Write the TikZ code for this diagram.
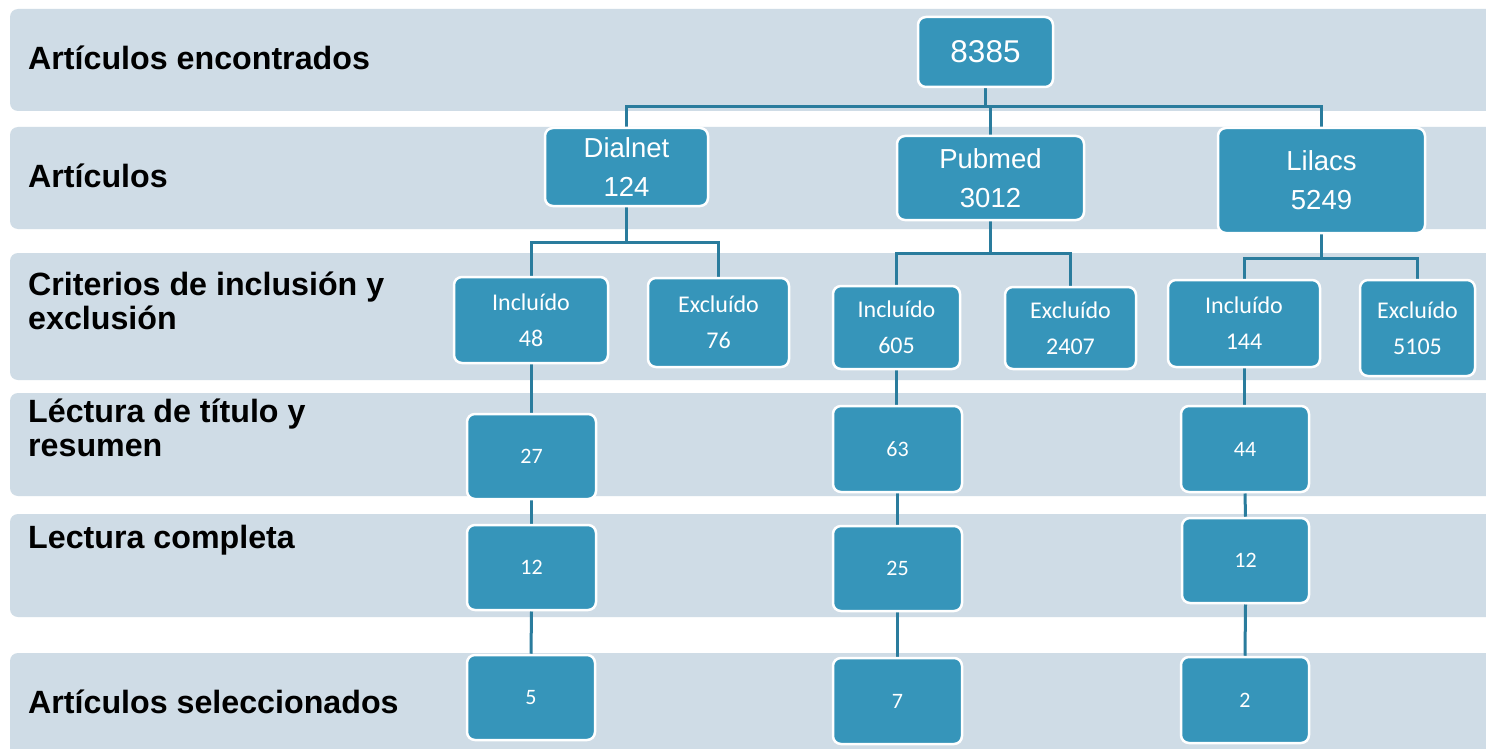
\documentclass[tikz,border=0pt]{standalone}
\usepackage{fontspec}
\setmainfont{Liberation Sans}
\newfontfamily\calib{Carlito}
\definecolor{bandc}{RGB}{207,220,230}
\definecolor{boxc}{RGB}{54,149,186}
\definecolor{linec}{RGB}{42,124,157}
\pgfdeclarelayer{under}
\pgfsetlayers{under,main}
\begin{document}
\begin{tikzpicture}[x=1pt,y=-1pt,
 band/.style={fill=bandc, rounded corners=8pt},
 lab/.style={inner sep=0pt, align=left, font=\fontsize{32.2}{33.5}\selectfont\bfseries},
 bx/.style={draw=white, line width=2.5pt, fill=boxc, rounded corners=8pt, text=white, inner sep=0pt, align=center},
 big/.style={bx, font=\fontsize{27.5}{39}\selectfont},
 top/.style={bx, font=\fontsize{31.5}{36}\selectfont},
 ie/.style={bx, font=\calib\fontsize{24}{36}\selectfont},
 num/.style={bx, font=\calib\fontsize{22}{26}\selectfont},
 conn/.style={draw=linec, line width=3pt}]
\useasboundingbox (0,0) rectangle (1486,749);
\begin{pgfonlayer}{under}
\fill[white] (0,0) rectangle (1486,749);
\fill[band] (10,9) rectangle (1510,111);
\fill[band] (10,127) rectangle (1510,229);
\fill[band] (10,253) rectangle (1510,380);
\fill[band] (10,393) rectangle (1510,496);
\fill[band] (10,514) rectangle (1510,617);
\fill[band] (10,653) rectangle (1510,775);
\end{pgfonlayer}
% row labels
\node[lab, anchor=base west] (l1) at (28,70) {Artículos encontrados};
\node[lab, anchor=base west] (l2) at (28,187) {Artículos};
\node[lab, anchor=north west] (l3) at (28,272) {Criterios de inclusión y\\exclusión};
\node[lab, anchor=north west] (l4) at (28,399) {Léctura de título y\\resumen};
\node[lab, anchor=base west] (l5) at (28,548) {Lectura completa};
\node[lab, anchor=base west] (l6) at (28,713) {Artículos seleccionados};
% boxes
\node[top, minimum width=135, minimum height=70] (n8385) at (985.5,52) {8385};
\node[big, minimum width=163, minimum height=78] (dialnet) at (626.5,167) {Dialnet\\124};
\node[big, minimum width=187, minimum height=84] (pubmed) at (990.5,178) {Pubmed\\3012};
\node[big, minimum width=207, minimum height=105] (lilacs) at (1321.5,180.5) {Lilacs\\5249};
\node[ie, minimum width=154, minimum height=86] (inc1) at (531,320) {Incluído\\48};
\node[ie, minimum width=141, minimum height=89] (exc1) at (718.5,322.5) {Excluído\\76};
\node[ie, minimum width=127, minimum height=83] (inc2) at (896.5,327.5) {Incluído\\605};
\node[ie, minimum width=131, minimum height=82] (exc2) at (1070.5,328) {Excluído\\2407};
\node[ie, minimum width=152, minimum height=87] (inc3) at (1244,323.5) {Incluído\\144};
\node[ie, minimum width=115, minimum height=96] (exc3) at (1417.5,328) {Excluído\\5105};
\node[num, minimum width=129, minimum height=85] (r4a) at (531.5,456.5) {27};
\node[num, minimum width=129, minimum height=86] (r4b) at (897.5,449) {63};
\node[num, minimum width=128, minimum height=86] (r4c) at (1245,449) {44};
\node[num, minimum width=129, minimum height=85] (r5a) at (531.5,567.5) {12};
\node[num, minimum width=129, minimum height=85] (r5b) at (897.5,568.5) {25};
\node[num, minimum width=127, minimum height=85] (r5c) at (1245.5,560.5) {12};
\node[num, minimum width=128, minimum height=85] (r6a) at (531,697.5) {5};
\node[num, minimum width=129, minimum height=86] (r6b) at (897.5,701) {7};
\node[num, minimum width=128, minimum height=86] (r6c) at (1245,700) {2};
% connectors
\coordinate (j1) at (986,107);
\coordinate (d1) at (626.5,242);
\coordinate (p1) at (990.5,253);
\coordinate (q1) at (1321.5,258);
\begin{pgfonlayer}{under}
\draw[conn] (n8385.south) |- (pubmed.north |- j1) -- (pubmed.north);
\draw[conn] (dialnet.north) |- (j1) -| (lilacs.north);
\draw[conn] (dialnet.south) -- (d1);
\draw[conn] (inc1.north) |- (d1) -| (exc1.north);
\draw[conn] (pubmed.south) -- (p1);
\draw[conn] (inc2.north) |- (p1) -| (exc2.north);
\draw[conn] (lilacs.south) -- (q1);
\draw[conn] (inc3.north) |- (q1) -| (exc3.north);
\draw[conn] (inc1.south) -- (inc1.south |- r4a.north);
\draw[conn] (r4a.south) -- (r5a.north);
\draw[conn] (r5a.south) -- (r6a.north);
\draw[conn] (inc2.south) -- (inc2.south |- r4b.north);
\draw[conn] (r4b.south) -- (r5b.north);
\draw[conn] (r5b.south) -- (r6b.north);
\draw[conn] (inc3.south) -- (inc3.south |- r4c.north);
\draw[conn] (r4c.south) -- (r5c.north);
\draw[conn] (r5c.south) -- (r6c.north);
\end{pgfonlayer}
\end{tikzpicture}
\end{document}
